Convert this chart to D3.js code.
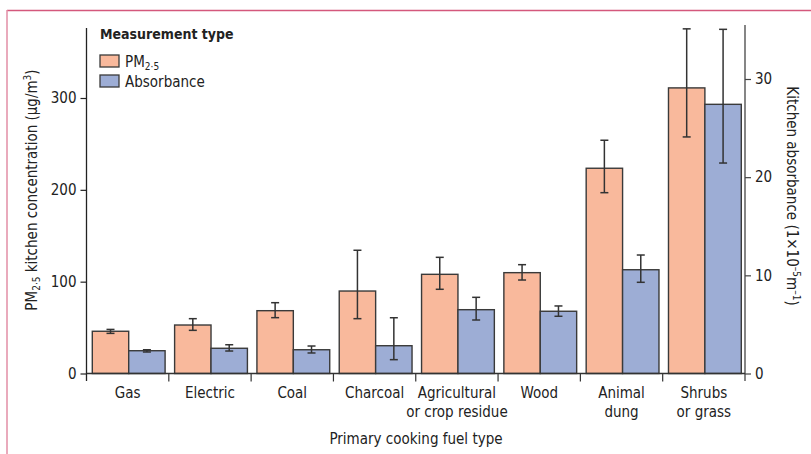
<!DOCTYPE html>
<html><head><meta charset="utf-8">
<script src="https://cdn.jsdelivr.net/npm/d3@7"></script>
<style>
html,body{margin:0;padding:0;background:#fff;}
svg{display:block;}
text{font-family:"Liberation Sans Narrow","DejaVu Sans Condensed",sans-serif;fill:#222;}
</style></head>
<body>
<svg id="chart" width="811" height="454"></svg>
<script>
// ---- data ----
const categories = ["Gas","Electric","Coal","Charcoal","Agricultural or crop residue","Wood","Animal dung","Shrubs or grass"];
const categoryLines = [["Gas"],["Electric"],["Coal"],["Charcoal"],["Agricultural","or crop residue"],["Wood"],["Animal","dung"],["Shrubs","or grass"]];
const series = ["PM2·5","Absorbance"];
const pmValues = [46, 52.8, 68.4, 89.8, 108, 109.8, 223.5, 311];
const pmLow    = [43.7, 47.0, 60.8, 59.7, 91.7, 101.8, 196.9, 257.6];
const pmHigh   = [48, 59.7, 77.1, 134.2, 126.5, 118.5, 254, 375.3];
const absValues = [2.32, 2.57, 2.42, 2.83, 6.50, 6.34, 10.57, 27.42];
const absLow    = [2.19, 2.29, 2.09, 1.41, 5.45, 5.83, 9.29, 21.44];
const absHigh   = [2.42, 2.93, 2.80, 5.68, 7.76, 6.88, 12.07, 35.06];
const leftTicks = [0,100,200,300];
const rightTicks = [0,10,20,30];
const colors = {"PM2·5":"#f9b99c","Absorbance":"#9dadd5"};

const svg = d3.select("#chart");

// frame
svg.append("line").attr("x1",7).attr("x2",811).attr("y1",10.5).attr("y2",10.5).attr("stroke","#d4587c").attr("stroke-width",1.5);
svg.append("line").attr("x1",7).attr("x2",7).attr("y1",10).attr("y2",454).attr("stroke","#e28ea6").attr("stroke-width",1.5);

const left = 86.5, right = 745, base = 373.5;
const x0 = d3.scaleBand().domain(categories).range([left,right]).paddingInner(0).paddingOuter(0);
const x1 = d3.scaleBand().domain(series).range([5.8, 78.6]).padding(0);
const yL = d3.scaleLinear().domain([0,300]).range([base, 98]);
const yR = d3.scaleLinear().domain([0,30]).range([base, 79]);

const rows = categories.map((c,i)=>({c, lines:categoryLines[i],
  bars:[{s:series[0], v:pmValues[i], lo:pmLow[i], hi:pmHigh[i], y:yL},
        {s:series[1], v:absValues[i], lo:absLow[i], hi:absHigh[i], y:yR}]}));

const g = svg.append("g");
const grp = g.selectAll("g.cat").data(rows).join("g").attr("transform",d=>`translate(${x0(d.c)},0)`);
grp.selectAll("rect").data(d=>d.bars).join("rect")
  .attr("x",d=>x1(d.s)).attr("width",x1.bandwidth())
  .attr("y",d=>d.y(d.v)).attr("height",d=>base-d.y(d.v))
  .attr("fill",d=>colors[d.s]).attr("stroke","#3a3a3a").attr("stroke-width",1.4);
// error bars
const eb = grp.selectAll("g.eb").data(d=>d.bars).join("g").attr("stroke","#333").attr("stroke-width",1.5);
eb.append("line").attr("x1",d=>x1(d.s)+x1.bandwidth()/2).attr("x2",d=>x1(d.s)+x1.bandwidth()/2)
  .attr("y1",d=>d.y(d.lo)).attr("y2",d=>d.y(d.hi));
eb.append("line").attr("x1",d=>x1(d.s)+x1.bandwidth()/2-4).attr("x2",d=>x1(d.s)+x1.bandwidth()/2+4)
  .attr("y1",d=>d.y(d.lo)).attr("y2",d=>d.y(d.lo));
eb.append("line").attr("x1",d=>x1(d.s)+x1.bandwidth()/2-4).attr("x2",d=>x1(d.s)+x1.bandwidth()/2+4)
  .attr("y1",d=>d.y(d.hi)).attr("y2",d=>d.y(d.hi));

// left axis
const axL = svg.append("g").attr("transform",`translate(${left},0)`)
  .call(d3.axisLeft(yL).tickValues(leftTicks).tickSize(6).tickPadding(4));
axL.select(".domain").remove();
axL.append("line").attr("x1",0).attr("x2",0).attr("y1",28).attr("y2",381).attr("stroke","#222").attr("stroke-width",1.3);
axL.selectAll(".tick line").attr("stroke","#222").attr("stroke-width",1.2);
axL.selectAll(".tick text").attr("font-size",15).attr("fill","#222").style("font-family",null);

// right axis
const axR = svg.append("g").attr("transform",`translate(${right},0)`)
  .call(d3.axisRight(yR).tickValues(rightTicks).tickSize(6).tickPadding(4));
axR.select(".domain").remove();
axR.append("line").attr("x1",0).attr("x2",0).attr("y1",25).attr("y2",381).attr("stroke","#444").attr("stroke-width",1.3);
axR.selectAll(".tick line").attr("stroke","#444").attr("stroke-width",1.2);
axR.selectAll(".tick text").attr("font-size",15).attr("fill","#222").style("font-family",null);

// x axis
const axX = svg.append("g").attr("transform",`translate(0,${base})`);
axX.append("line").attr("x1",left).attr("x2",right).attr("y1",0).attr("y2",0).attr("stroke","#333").attr("stroke-width",1.4);
axX.selectAll("line.sep").data(categories.slice(1)).join("line").attr("class","sep")
  .attr("x1",d=>x0(d)).attr("x2",d=>x0(d)).attr("y1",0).attr("y2",8).attr("stroke","#333").attr("stroke-width",1.2);
const lab = axX.selectAll("text.cl").data(rows).join("text").attr("class","cl")
  .attr("text-anchor","middle").attr("font-size",15)
  .attr("x",d=>x0(d.c)+x0.bandwidth()/2).attr("y",24);
lab.selectAll("tspan").data(d=>d.lines).join("tspan")
  .attr("x",function(){return d3.select(this.parentNode).attr("x");})
  .attr("dy",(d,i)=>i===0?0:19).text(d=>d);

svg.append("text").attr("x",416).attr("y",444).attr("text-anchor","middle").attr("font-size",15).text("Primary cooking fuel type");

// left title
const tl = svg.append("text").attr("transform","translate(37,190) rotate(-90)").attr("text-anchor","middle").attr("font-size",15);
tl.append("tspan").text("PM");
tl.append("tspan").attr("font-size",10).attr("dy",3).text("2·5");
tl.append("tspan").attr("dy",-3).text(" kitchen concentration (µg/m");
tl.append("tspan").attr("font-size",10).attr("dy",-6).text("3");
tl.append("tspan").attr("dy",6).text(")");

// right title
const tr = svg.append("text").attr("transform","translate(787,196) rotate(90)").attr("text-anchor","middle").attr("font-size",15);
tr.append("tspan").text("Kitchen absorbance (1×10");
tr.append("tspan").attr("font-size",10).attr("dy",-6).text("–5");
tr.append("tspan").attr("dy",6).text("m");
tr.append("tspan").attr("font-size",10).attr("dy",-6).text("–1");
tr.append("tspan").attr("dy",6).text(")");

// legend
const lg = svg.append("g");
lg.append("text").attr("x",100).attr("y",39).attr("font-size",14).attr("font-weight","bold").text("Measurement type");
const li = lg.selectAll("g.li").data(series).join("g").attr("transform",(d,i)=>`translate(100,${55+i*20})`);
li.append("rect").attr("width",19).attr("height",12).attr("fill",d=>colors[d]).attr("stroke","#3a3a3a").attr("stroke-width",1.3);
const lt = li.append("text").attr("x",25).attr("y",11.5).attr("font-size",15);
lt.each(function(d){
  const t=d3.select(this);
  if(d==="PM2·5"){t.append("tspan").text("PM");t.append("tspan").attr("font-size",10).attr("dy",3).text("2·5");}
  else t.text(d);
});
</script>
</body></html>
